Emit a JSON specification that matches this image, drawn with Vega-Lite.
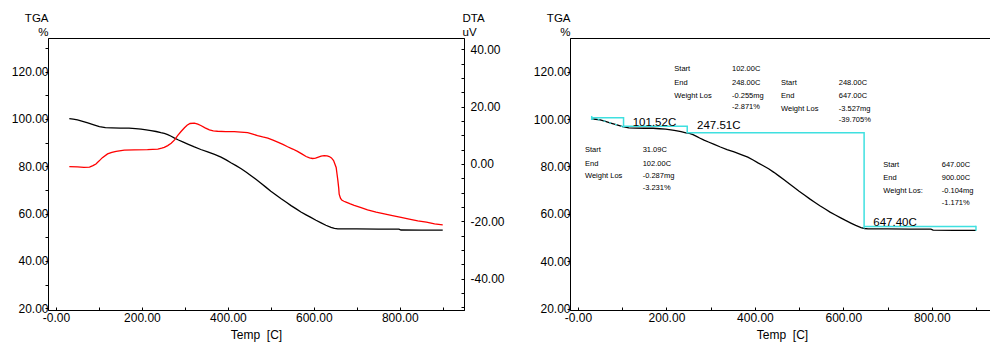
{
  "$schema": "https://vega.github.io/schema/vega-lite/v6.json",
  "padding": {"left": 10, "top": 11, "right": 5, "bottom": 5},
  "bounds": "flush",
  "spacing": 106,
  "background": "white",
  "config": {
    "view": {"stroke": "#000", "strokeWidth": 1},
    "font": "Liberation Sans",
    "axis": {
      "grid": false,
      "domainColor": "#000",
      "tickColor": "#000",
      "labelColor": "#000",
      "titleColor": "#000",
      "labelFont": "Liberation Sans",
      "labelFontSize": 12,
      "titleFont": "Liberation Sans",
      "titleFontWeight": "normal",
      "labelFlush": false,
      "labelOverlap": false,
      "labelBound": false
    }
  },
  "datasets": {
    "tga": [
      {"t": 31, "w": 100.1}, {"t": 40, "w": 99.9}, {"t": 50, "w": 99.6}, {"t": 62, "w": 99.0},
      {"t": 74, "w": 98.3}, {"t": 88, "w": 97.5}, {"t": 101, "w": 96.8}, {"t": 115, "w": 96.3},
      {"t": 130, "w": 96.2}, {"t": 150, "w": 96.1}, {"t": 170, "w": 96.1}, {"t": 185, "w": 95.9},
      {"t": 198, "w": 95.7}, {"t": 210, "w": 95.4}, {"t": 221, "w": 95.1}, {"t": 233, "w": 94.7},
      {"t": 244, "w": 94.2}, {"t": 252, "w": 93.9}, {"t": 260, "w": 93.4}, {"t": 268, "w": 92.7},
      {"t": 275, "w": 92.0}, {"t": 285, "w": 91.1}, {"t": 295, "w": 90.3}, {"t": 308, "w": 89.3},
      {"t": 322, "w": 88.2}, {"t": 337, "w": 87.1}, {"t": 353, "w": 86.1}, {"t": 369, "w": 85.0},
      {"t": 384, "w": 83.9}, {"t": 396, "w": 82.7}, {"t": 407, "w": 81.5}, {"t": 419, "w": 80.3},
      {"t": 431, "w": 79.0}, {"t": 443, "w": 77.5}, {"t": 454, "w": 76.0}, {"t": 466, "w": 74.4},
      {"t": 477, "w": 72.8}, {"t": 489, "w": 71.1}, {"t": 500, "w": 69.5}, {"t": 512, "w": 67.9},
      {"t": 524, "w": 66.3}, {"t": 536, "w": 64.8}, {"t": 547, "w": 63.4}, {"t": 559, "w": 62.0},
      {"t": 570, "w": 60.7}, {"t": 582, "w": 59.5}, {"t": 593, "w": 58.4}, {"t": 605, "w": 57.2},
      {"t": 617, "w": 56.1}, {"t": 628, "w": 55.1}, {"t": 640, "w": 54.2}, {"t": 648, "w": 53.8},
      {"t": 656, "w": 53.6}, {"t": 700, "w": 53.6}, {"t": 750, "w": 53.5}, {"t": 798, "w": 53.5},
      {"t": 803, "w": 53.1}, {"t": 850, "w": 53.0}, {"t": 900, "w": 53.0}
    ],
    "dta": [
      {"t": 31, "v": -0.9}, {"t": 50, "v": -1.0}, {"t": 65, "v": -1.2}, {"t": 78, "v": -1.1},
      {"t": 86, "v": -0.6}, {"t": 93, "v": 0.0}, {"t": 100, "v": 1.0}, {"t": 108, "v": 2.2},
      {"t": 120, "v": 3.5}, {"t": 130, "v": 4.0}, {"t": 140, "v": 4.4}, {"t": 159, "v": 4.8},
      {"t": 182, "v": 4.9}, {"t": 213, "v": 5.0}, {"t": 237, "v": 5.2}, {"t": 246, "v": 5.5},
      {"t": 252, "v": 5.8}, {"t": 260, "v": 6.4}, {"t": 268, "v": 7.2}, {"t": 276, "v": 8.4},
      {"t": 283, "v": 9.9}, {"t": 291, "v": 11.3}, {"t": 299, "v": 12.6}, {"t": 305, "v": 13.5},
      {"t": 312, "v": 14.1}, {"t": 322, "v": 14.2}, {"t": 330, "v": 13.9}, {"t": 337, "v": 13.4},
      {"t": 347, "v": 12.6}, {"t": 357, "v": 11.9}, {"t": 366, "v": 11.5}, {"t": 376, "v": 11.4},
      {"t": 395, "v": 11.3}, {"t": 415, "v": 11.3}, {"t": 430, "v": 11.1}, {"t": 446, "v": 10.9},
      {"t": 458, "v": 10.4}, {"t": 469, "v": 9.9}, {"t": 481, "v": 9.4}, {"t": 493, "v": 9.0},
      {"t": 505, "v": 8.3}, {"t": 516, "v": 7.6}, {"t": 528, "v": 6.8}, {"t": 539, "v": 6.0},
      {"t": 551, "v": 5.2}, {"t": 562, "v": 4.4}, {"t": 572, "v": 3.5}, {"t": 582, "v": 2.6},
      {"t": 590, "v": 2.1}, {"t": 597, "v": 1.9}, {"t": 604, "v": 2.0}, {"t": 609, "v": 2.3},
      {"t": 617, "v": 2.7}, {"t": 624, "v": 2.9}, {"t": 631, "v": 2.8}, {"t": 636, "v": 2.6},
      {"t": 641, "v": 2.1}, {"t": 646, "v": 1.2}, {"t": 649, "v": 0.0}, {"t": 652, "v": -1.2},
      {"t": 654, "v": -3.5}, {"t": 656, "v": -5.8}, {"t": 658, "v": -8.5}, {"t": 659, "v": -10.5},
      {"t": 662, "v": -11.9}, {"t": 665, "v": -12.6}, {"t": 670, "v": -13.0}, {"t": 675, "v": -13.3},
      {"t": 685, "v": -13.9}, {"t": 694, "v": -14.4}, {"t": 710, "v": -15.2}, {"t": 725, "v": -16.0},
      {"t": 745, "v": -16.8}, {"t": 764, "v": -17.4}, {"t": 783, "v": -18.0}, {"t": 803, "v": -18.6},
      {"t": 822, "v": -19.2}, {"t": 842, "v": -19.8}, {"t": 862, "v": -20.3}, {"t": 881, "v": -20.9},
      {"t": 900, "v": -21.2}
    ],
    "step": [
      {"seg": "a", "o": 1, "t": 31, "w": 101.3}, {"seg": "a", "o": 2, "t": 31, "w": 99.6},
      {"seg": "b", "o": 1, "t": 31, "w": 100.5}, {"seg": "b", "o": 2, "t": 103, "w": 100.5}, {"seg": "b", "o": 3, "t": 103, "w": 96.4},
      {"seg": "c", "o": 1, "t": 103, "w": 97.0}, {"seg": "c", "o": 2, "t": 247, "w": 97.0}, {"seg": "c", "o": 3, "t": 247, "w": 94.2},
      {"seg": "c", "o": 4, "t": 647, "w": 94.2}, {"seg": "c", "o": 5, "t": 647, "w": 53.8},
      {"seg": "d", "o": 1, "t": 647, "w": 54.6}, {"seg": "d", "o": 2, "t": 900, "w": 54.6},
      {"seg": "e", "o": 1, "t": 900, "w": 55.0}, {"seg": "e", "o": 2, "t": 900, "w": 52.8}
    ],
    "notes": [
      {"t": 217.8, "w": 121.1, "label": "Start"}, {"t": 348.3, "w": 121.1, "label": "102.00C"},
      {"t": 217.8, "w": 115.4, "label": "End"}, {"t": 348.3, "w": 115.4, "label": "248.00C"},
      {"t": 217.8, "w": 109.8, "label": "Weight Los"}, {"t": 348.3, "w": 109.8, "label": "-0.255mg"},
      {"t": 348.3, "w": 105.1, "label": "-2.871%"},
      {"t": 459.1, "w": 115.4, "label": "Start"}, {"t": 589.6, "w": 115.4, "label": "248.00C"},
      {"t": 459.1, "w": 109.8, "label": "End"}, {"t": 589.6, "w": 109.8, "label": "647.00C"},
      {"t": 459.1, "w": 104.2, "label": "Weight Los"}, {"t": 589.6, "w": 104.2, "label": "-3.527mg"},
      {"t": 589.6, "w": 99.8, "label": "-39.705%"},
      {"t": 15.8, "w": 86.8, "label": "Start"}, {"t": 146.3, "w": 86.8, "label": "31.09C"},
      {"t": 15.8, "w": 81.1, "label": "End"}, {"t": 146.3, "w": 81.1, "label": "102.00C"},
      {"t": 15.8, "w": 75.9, "label": "Weight Los"}, {"t": 146.3, "w": 75.9, "label": "-0.287mg"},
      {"t": 146.3, "w": 71.1, "label": "-3.231%"},
      {"t": 690.4, "w": 80.7, "label": "Start"}, {"t": 822.5, "w": 80.7, "label": "647.00C"},
      {"t": 690.4, "w": 75.1, "label": "End"}, {"t": 822.5, "w": 75.1, "label": "900.00C"},
      {"t": 690.4, "w": 69.5, "label": "Weight Los:"}, {"t": 822.5, "w": 69.5, "label": "-0.104mg"},
      {"t": 822.5, "w": 64.7, "label": "-1.171%"}
    ],
    "marks": [
      {"t": 123.7, "w": 98.4, "label": "101.52C"},
      {"t": 269.1, "w": 97.0, "label": "247.51C"},
      {"t": 667.8, "w": 56.2, "label": "647.40C"}
    ]
  },
  "resolve": {"scale": {"x": "independent", "y": "independent"}},
  "hconcat": [
    {
      "width": 416,
      "height": 272,
      "layer": [
        {
          "data": {"name": "tga"},
          "mark": {"type": "line", "color": "#000", "strokeWidth": 1.3},
          "encoding": {
            "x": {
              "field": "t", "type": "quantitative",
              "scale": {"domain": [-18.6, 949.5], "nice": false, "zero": false},
              "axis": {
                "title": "Temp\u00a0 [C]", "titleFontSize": 12, "titleX": 208, "titleY": 28, "titleBaseline": "alphabetic",
                "values": [0, 50, 100, 150, 200, 250, 300, 350, 400, 450, 500, 550, 600, 650, 700, 750, 800, 850, 900],
                "tickSize": -3, "labelPadding": 5,
                "labelExpr": "datum.value % 200 === 0 ? (datum.value === 0 ? '-0.00' : format(datum.value, '.2f')) : ''"
              }
            },
            "y": {
              "field": "w", "type": "quantitative",
              "scale": {"domain": [19.3, 134.2], "nice": false, "zero": false},
              "axis": {
                "title": ["TGA", "%"], "titleAngle": 0, "titleAlign": "right", "titleX": 0, "titleY": -17,
                "titleBaseline": "alphabetic", "titleFontSize": 11.5, "titleLineHeight": 14,
                "values": [20, 30, 40, 50, 60, 70, 80, 90, 100, 110, 120, 130],
                "tickSize": 3, "labelPadding": -3,
                "labelExpr": "datum.value % 20 === 0 ? format(datum.value, '.2f') : ''"
              }
            }
          }
        },
        {
          "data": {"name": "dta"},
          "mark": {"type": "line", "color": "#ff0000", "strokeWidth": 1.3},
          "encoding": {
            "x": {"field": "t", "type": "quantitative"},
            "y": {
              "field": "v", "type": "quantitative",
              "scale": {"domain": [-50.9, 43.9], "nice": false, "zero": false},
              "axis": {
                "orient": "right",
                "title": ["DTA", "uV"], "titleAngle": 0, "titleAlign": "left", "titleX": -2, "titleY": -17,
                "titleBaseline": "alphabetic", "titleFontSize": 11.5, "titleLineHeight": 14,
                "values": [-50, -45, -40, -35, -30, -25, -20, -15, -10, -5, 0, 5, 10, 15, 20, 25, 30, 35, 40],
                "tickSize": -3, "labelPadding": 9,
                "labelExpr": "datum.value % 20 === 0 ? (datum.value < 0 ? '-' : '') + format(abs(datum.value), '.2f') : ''"
              }
            }
          }
        }
      ],
      "resolve": {"scale": {"y": "independent"}}
    },
    {
      "width": 425,
      "height": 272,
      "layer": [
        {
          "data": {"name": "tga"},
          "mark": {"type": "line", "color": "#000", "strokeWidth": 1.3},
          "encoding": {
            "x": {
              "field": "t", "type": "quantitative",
              "scale": {"domain": [-18.1, 943.0], "nice": false, "zero": false},
              "axis": {
                "title": "Temp\u00a0 [C]", "titleFontSize": 12, "titleX": 212, "titleY": 28, "titleBaseline": "alphabetic",
                "values": [0, 50, 100, 150, 200, 250, 300, 350, 400, 450, 500, 550, 600, 650, 700, 750, 800, 850, 900],
                "tickSize": -3, "labelPadding": 5,
                "labelExpr": "datum.value % 200 === 0 ? (datum.value === 0 ? '-0.00' : format(datum.value, '.2f')) : ''"
              }
            },
            "y": {
              "field": "w", "type": "quantitative",
              "scale": {"domain": [19.4, 134.2], "nice": false, "zero": false},
              "axis": {
                "title": ["TGA", "%"], "titleAngle": 0, "titleAlign": "right", "titleX": 0, "titleY": -17,
                "titleBaseline": "alphabetic", "titleFontSize": 11.5, "titleLineHeight": 14,
                "values": [20, 30, 40, 50, 60, 70, 80, 90, 100, 110, 120, 130],
                "tickSize": 3, "labelPadding": -3,
                "labelExpr": "datum.value % 20 === 0 ? format(datum.value, '.2f') : ''"
              }
            }
          }
        },
        {
          "data": {"name": "tga"},
          "transform": [{"filter": "datum.t <= 102"}],
          "mark": {"type": "line", "color": "#3fe0e0", "strokeWidth": 1.3, "strokeDash": [2, 4]},
          "encoding": {
            "x": {"field": "t", "type": "quantitative"},
            "y": {"field": "w", "type": "quantitative"}
          }
        },
        {
          "data": {"name": "step"},
          "mark": {"type": "line", "color": "#3fe0e0", "strokeWidth": 1.5},
          "encoding": {
            "x": {"field": "t", "type": "quantitative"},
            "y": {"field": "w", "type": "quantitative"},
            "detail": {"field": "seg"},
            "order": {"field": "o", "type": "quantitative"}
          }
        },
        {
          "data": {"name": "notes"},
          "mark": {"type": "text", "align": "left", "baseline": "middle", "fontSize": 7.5, "color": "#000", "font": "Liberation Sans"},
          "encoding": {
            "x": {"field": "t", "type": "quantitative"},
            "y": {"field": "w", "type": "quantitative"},
            "text": {"field": "label"}
          }
        },
        {
          "data": {"name": "marks"},
          "mark": {"type": "text", "align": "left", "baseline": "middle", "fontSize": 11.5, "color": "#000", "font": "Liberation Sans"},
          "encoding": {
            "x": {"field": "t", "type": "quantitative"},
            "y": {"field": "w", "type": "quantitative"},
            "text": {"field": "label"}
          }
        }
      ]
    }
  ]
}
